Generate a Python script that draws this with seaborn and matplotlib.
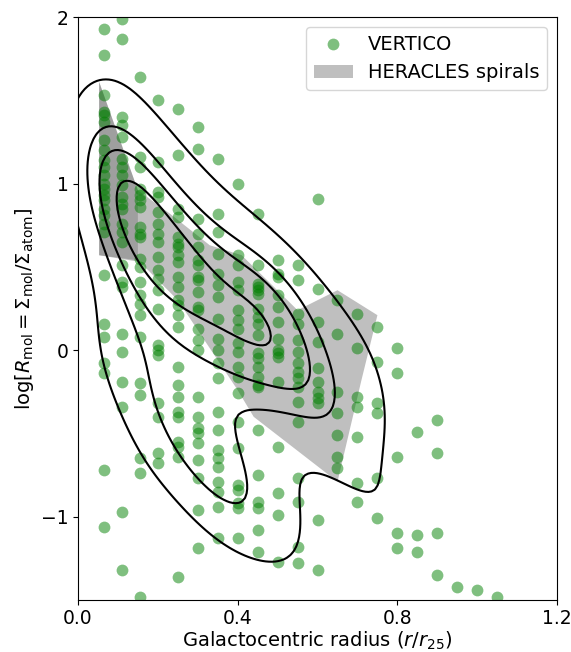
import matplotlib
matplotlib.use('Agg')
import matplotlib.pyplot as plt
import numpy as np
import pandas as pd
import seaborn as sns

# VERTICO points, grouped by radial bin (r/r25)
bin_r = [0.065, 0.11, 0.155, 0.2, 0.25, 0.3, 0.35, 0.4, 0.45, 0.5, 0.55,
         0.6, 0.65, 0.7, 0.75, 0.8, 0.85, 0.9, 0.95, 1.0, 1.05]
logR_a = [1.93, 1.77, 1.53, 1.43, 1.41, 1.37, 1.26, 1.20, 1.14, 1.10, 1.05, 1.00, 0.97,
          0.93, 0.90, 0.85, 0.81, 0.76, 0.71, 0.45, 0.16, 0.08, -0.08, -0.14, -0.72, -1.06]
logR_b = [1.99, 1.87, 1.40, 1.35, 1.28, 1.15, 1.10, 1.05, 0.99, 0.92, 0.88, 0.85, 0.76,
          0.71, 0.65, 0.51, 0.41, 0.38, 0.10, -0.01, -0.19, -0.34, -0.97, -1.32]
logR_c = [1.64, 1.16, 1.10, 0.97, 0.93, 0.90, 0.86, 0.74, 0.70, 0.68, 0.55, 0.50, 0.41,
          0.33, 0.28, 0.21, 0.08, -0.20, -0.27, -0.65, -0.74, -1.48]
logR_d = [1.50, 1.13, 0.95, 0.92, 0.83, 0.76, 0.70, 0.65, 0.56, 0.48, 0.43, 0.36, 0.25,
          0.03, 0.00, -0.03, -0.32, -0.40, -0.62, -0.68]
logR_e = [1.45, 1.17, 0.85, 0.80, 0.68, 0.64, 0.62, 0.57, 0.53, 0.44, 0.38, 0.30, 0.27,
          0.21, 0.14, -0.10, -0.21, -0.28, -0.37, -0.40, -0.55, -0.58, -0.64, -1.36]
logR_f = [1.34, 1.21, 0.79, 0.70, 0.62, 0.54, 0.51, 0.44, 0.42, 0.35, 0.26, 0.24, 0.13,
          0.06, 0.00, -0.28, -0.40, -0.47, -0.50, -0.56, -0.66, -0.77, -0.96, -1.19]
logR_g = [1.15, 0.82, 0.71, 0.58, 0.46, 0.39, 0.32, 0.19, 0.07, 0.00, -0.08, -0.17,
          -0.37, -0.48, -0.60, -0.65, -0.70, -0.79, -0.85, -0.94, -1.13]
logR_h = [1.00, 0.57, 0.51, 0.41, 0.36, 0.24, 0.18, 0.13, 0.04, -0.01, -0.10, -0.16,
          -0.26, -0.43, -0.59, -0.81, -0.84, -0.92, -0.95, -1.13]
logR_i = [0.82, 0.51, 0.40, 0.38, 0.36, 0.34, 0.25, 0.20, 0.16, 0.09, -0.02, -0.05,
          -0.10, -0.16, -0.21, -0.22, -0.48, -0.75, -0.91, -0.95, -1.08, -1.21]
logR_j = [0.54, 0.46, 0.44, 0.33, 0.26, 0.17, 0.07, 0.00, -0.02, -0.04, -0.19, -0.58,
          -0.86, -0.99, -1.27]
logR_k = [0.51, 0.42, 0.22, 0.16, 0.06, -0.01, -0.08, -0.13, -0.17, -0.22, -0.31,
          -0.43, -0.77, -0.91, -1.18, -1.28]
logR_l = [0.91, 0.37, 0.17, 0.05, -0.11, -0.19, -0.25, -0.29, -0.32, -1.02, -1.32]
logR_m = [0.30, 0.10, -0.25, -0.38, -0.51, -0.64, -0.71]
logR_n = [0.22, 0.01, -0.28, -0.34, -0.52, -0.80, -0.91]
logR_o = [0.14, -0.07, -0.32, -0.38, -0.77, -1.01]
logR_p = [0.01, -0.14, -0.64, -1.10, -1.19]
logR_q = [-0.49, -1.11, -1.21]
logR_r = [-0.42, -0.62, -1.10, -1.35]
logR_s = [-1.42]
logR_t = [-1.44]
logR_u = [-1.48]
logR_bins = [logR_a, logR_b, logR_c, logR_d, logR_e, logR_f, logR_g, logR_h, logR_i,
             logR_j, logR_k, logR_l, logR_m, logR_n, logR_o, logR_p, logR_q, logR_r,
             logR_s, logR_t, logR_u]

# HERACLES spirals band outline
her_r = [0.053, 0.15, 0.23, 0.33, 0.41, 0.55, 0.65, 0.75, 0.71, 0.65, 0.44, 0.40,
         0.25, 0.155, 0.053]
her_logR = [1.61, 0.96, 0.82, 0.63, 0.57, 0.24, 0.36, 0.21, -0.18, -0.79, -0.40,
            -0.24, 0.30, 0.53, 0.57]
# inner (overlapping) HERACLES band
her2_r = [0.053, 0.15, 0.15, 0.053]
her2_logR = [1.61, 0.96, 0.54, 0.57]

# density contour levels (iso-proportions)
kde_levels = [0.245, 0.5, 0.7, 0.87]

df = pd.DataFrame({
    'r': np.concatenate([[r] * len(v) for r, v in zip(bin_r, logR_bins)]),
    'logR': np.concatenate(logR_bins),
})

fig = plt.figure(figsize=(5.71, 6.52), dpi=100)
ax = fig.add_axes([0.1366, 0.0798, 0.839, 0.894])

sns.scatterplot(data=df, x='r', y='logR', color='green', alpha=0.5, s=72,
                linewidth=0, ax=ax, label='VERTICO', zorder=2)
ax.fill(her_r, her_logR, color='gray', alpha=0.5, lw=0, label='HERACLES spirals', zorder=1)
ax.fill(her2_r, her2_logR, color='gray', alpha=0.5, lw=0, zorder=1)
sns.kdeplot(data=df, x='r', y='logR', levels=kde_levels, bw_adjust=1.0,
            color='black', linewidths=1.5, ax=ax, zorder=3)

ax.set_xlim(0, 1.2)
ax.set_ylim(-1.5, 2)
ax.set_xticks([0, 0.4, 0.8, 1.2])
ax.set_yticks([-1, 0, 1, 2])
ax.tick_params(labelsize=13.5, pad=3)
ax.set_xlabel('Galactocentric radius ($r/r_{25}$)', fontsize=14, labelpad=1)
ax.set_ylabel(r'$\log[R_{\rm mol} = \Sigma_{\rm mol}/\Sigma_{\rm atom}]$', fontsize=14)
ax.legend(loc='upper right', fontsize=14)

fig.savefig('out.png', dpi=100)
